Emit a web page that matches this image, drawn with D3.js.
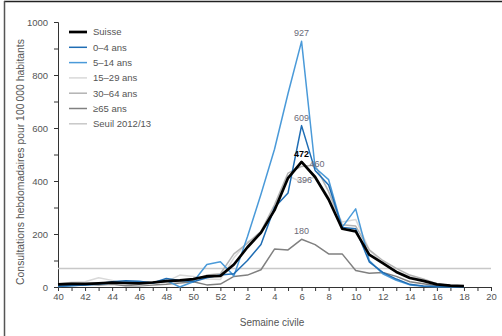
<!DOCTYPE html>
<html>
<head>
<meta charset="utf-8">
<script src="https://cdn.jsdelivr.net/npm/d3@7"></script>
<style>
  body { margin: 0; background: #fff; }
  text { font-family: "Liberation Sans", Arial, sans-serif; }
</style>
</head>
<body>
<div class="chart"></div>
<script>
// Data
var weeks = [40, 41, 42, 43, 44, 45, 46, 47, 48, 49, 50, 51, 52,
             1, 2, 3, 4, 5, 6, 7, 8, 9, 10, 11, 12, 13, 14, 15, 16, 17, 18, 19, 20];
var suisse  = [10, 12, 12, 14, 17, 15, 14, 17, 22, 25, 30, 40, 42,
               85, 150, 205, 290, 411, 472, 415, 330, 220, 210, 122, 90, 57, 34, 23, 10, 5, 3];
var age0_4  = [3, 6, 8, 12, 20, 24, 22, 15, 32, 25, 20, 35, 45,
               50, 100, 160, 300, 355, 609, 440, 385, 225, 220, 95, 55, 30, 10, 4, 2, 1, 1];
var age5_14 = [2, 5, 8, 10, 15, 18, 20, 15, 25, 0, 20, 85, 95,
               42, 190, 350, 520, 730, 927, 450, 405, 225, 295, 100, 50, 25, 8, 3, 1, 1, 1];
var age15_29 = [10, 18, 20, 35, 25, 12, 8, 12, 20, 45, 40, 30, 28,
                110, 170, 200, 290, 420, 396, 415, 340, 245, 255, 140, 90, 60, 40, 25, 10, 5, 4];
var age30_64 = [12, 15, 12, 12, 14, 16, 12, 20, 22, 20, 25, 45, 50,
                125, 165, 210, 310, 430, 455, 460, 360, 235, 230, 140, 100, 70, 45, 30, 12, 6, 5];
var age65   = [8, 10, 10, 8, 10, 5, 5, 8, 10, 15, 20, 8, 11,
               40, 45, 65, 143, 140, 180, 160, 125, 125, 62, 52, 55, 40, 20, 12, 5, 3, 2];
var seuil = 70;
var yTicks = [0, 200, 400, 600, 800, 1000];

var seriesNames = ["Suisse", "0\u20134 ans", "5\u201314 ans", "15\u201329 ans", "30\u201364 ans", "\u226565 ans", "Seuil 2012/13"];
var seriesColors = ["#000000", "#1f6db4", "#4a9ad9", "#d9d9d9", "#b3b3b3", "#808080", "#c8c8c8"];
var seriesWidths = [2.7, 1.5, 1.5, 1.5, 1.5, 1.5, 1.5];

// peak labels: [series index, point index, text]
var peakLabels = [[2, 18, "927"], [1, 18, "609"], [0, 18, "472"], [4, 19, "460"], [3, 18, "396"], [5, 18, "180"]];

// Configuration
var width = 502;
var height = 336;
var margin = {left: 58, top: 22, right: 11, bottom: 49};

var svg = d3.select(".chart").append("svg")
    .attr("width", width)
    .attr("height", height);

// frame lines
svg.append("line").attr("x1", 4).attr("x2", width).attr("y1", 1.5).attr("y2", 1.5)
    .attr("stroke", "#222").attr("stroke-width", 1.5);
svg.append("line").attr("x1", 4.5).attr("x2", 4.5).attr("y1", 1).attr("y2", height)
    .attr("stroke", "#555").attr("stroke-width", 1.5);

var x = d3.scaleLinear()
    .domain([0, weeks.length - 1])
    .range([margin.left, width - margin.right]);

var y = d3.scaleLinear()
    .domain([0, 1000])
    .range([height - margin.bottom, margin.top]);

// axes
var xAxis = d3.axisBottom(x)
    .tickValues(d3.range(weeks.length))
    .tickSize(4)
    .tickFormat(function(d) { return d % 2 == 0 ? weeks[d] : ""; });

var gx = svg.append("g")
    .attr("transform", "translate(0," + y(0) + ")")
    .call(xAxis);
gx.select(".domain").attr("stroke", "#333");
gx.selectAll(".tick line").attr("stroke", "#333");
gx.selectAll(".tick text").attr("fill", "#555").attr("font-size", 9.5).attr("dy", "0.6em");

var yAxis = d3.axisLeft(y)
    .tickValues(d3.range(0, 1001, 100))
    .tickSize(4)
    .tickFormat(function(d) { return yTicks.indexOf(d) >= 0 ? d : ""; });

var gy = svg.append("g")
    .attr("transform", "translate(" + margin.left + ",0)")
    .call(yAxis);
gy.select(".domain").attr("stroke", "#333");
gy.selectAll(".tick line").attr("stroke", "#333");
gy.selectAll(".tick text").attr("fill", "#555").attr("font-size", 9.5).attr("dx", "-0.3em");

// axis titles
svg.append("text")
    .attr("x", 272)
    .attr("y", 326)
    .attr("text-anchor", "middle")
    .attr("fill", "#555")
    .attr("font-size", 10)
    .text("Semaine civile");

svg.append("text")
    .attr("transform", "translate(24,162) rotate(-90)")
    .attr("text-anchor", "middle")
    .attr("fill", "#555")
    .attr("font-size", 10.4)
    .text("Consultations hebdomadaires pour 100\u2009000 habitants");

// threshold
svg.append("line")
    .attr("x1", x(0)).attr("x2", x(weeks.length - 1))
    .attr("y1", y(seuil)).attr("y2", y(seuil))
    .attr("stroke", seriesColors[6]).attr("stroke-width", 1.5);

// lines, drawn with the black Suisse on top
var allSeries = [suisse, age0_4, age5_14, age15_29, age30_64, age65];
var drawOrder = [5, 3, 4, 2, 1, 0];

var line = d3.line()
    .x(function(d, i) { return x(i); })
    .y(function(d) { return y(d); });

svg.selectAll("path.serie")
    .data(drawOrder)
    .enter().append("path")
    .attr("class", "serie")
    .attr("fill", "none")
    .attr("stroke", function(k) { return seriesColors[k]; })
    .attr("stroke-width", function(k) { return seriesWidths[k]; })
    .attr("stroke-linejoin", "round")
    .attr("d", function(k) { return line(allSeries[k]); });

// peak labels
svg.selectAll("text.peak")
    .data(peakLabels)
    .enter().append("text")
    .attr("class", "peak")
    .attr("x", function(d) {
        if (d[0] == 4) return x(d[1]) + 2;
        if (d[0] == 3) return x(d[1]) + 3;
        return x(d[1]);
    })
    .attr("y", function(d) {
        if (d[0] == 3) return y(allSeries[d[0]][d[1]]) + 1;
        if (d[0] == 4) return y(allSeries[d[0]][d[1]]) + 2;
        return y(allSeries[d[0]][d[1]]) - 5;
    })
    .attr("text-anchor", "middle")
    .attr("font-size", 9)
    .attr("font-weight", function(d) { return d[0] == 0 ? "bold" : "normal"; })
    .attr("fill", function(d) { return d[0] == 0 ? "#000" : "#6a6a78"; })
    .text(function(d) { return d[2]; });

// legend
var legend = svg.selectAll("g.legend")
    .data(seriesNames)
    .enter().append("g")
    .attr("class", "legend")
    .attr("transform", function(d, i) { return "translate(69," + (32 + i * 15.3) + ")"; });

legend.append("line")
    .attr("x1", 0).attr("x2", 18)
    .attr("stroke", function(d, i) { return seriesColors[i]; })
    .attr("stroke-width", function(d, i) { return seriesWidths[i]; });

legend.append("text")
    .attr("x", 24)
    .attr("dy", "0.35em")
    .attr("font-size", 9.5)
    .attr("fill", "#555")
    .text(function(d) { return d; });
</script>
</body>
</html>
